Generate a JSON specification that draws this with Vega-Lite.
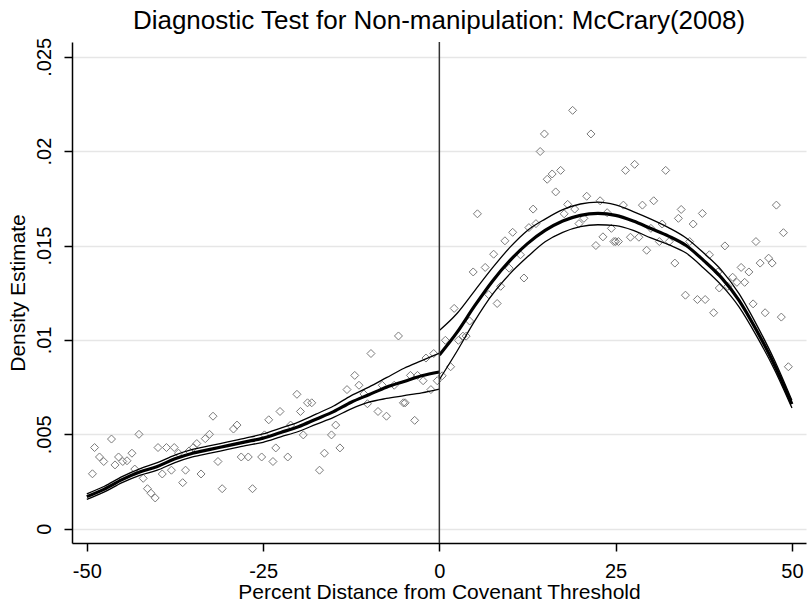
{
  "$schema": "https://vega.github.io/schema/vega-lite/v6.json",
  "autosize": {"type": "none"},
  "padding": {"left": 72, "top": 42, "right": 2, "bottom": 64},
  "width": 734,
  "height": 501,
  "background": "white",
  "title": {
    "text": "Diagnostic Test for Non-manipulation: McCrary(2008)",
    "font": "Liberation Sans",
    "fontSize": 26,
    "fontWeight": "normal",
    "color": "#000000",
    "anchor": "middle",
    "frame": "group",
    "baseline": "alphabetic",
    "offset": -18
  },
  "config": {
    "view": {"stroke": null},
    "font": "Liberation Sans",
    "axis": {
      "labelFont": "Liberation Sans",
      "titleFont": "Liberation Sans",
      "labelFontSize": 20,
      "titleFontSize": 21,
      "titleFontWeight": "normal",
      "labelColor": "#000000",
      "titleColor": "#000000",
      "domainColor": "#000000",
      "tickColor": "#000000",
      "domainWidth": 1.5,
      "tickWidth": 1.5,
      "tickSize": 8
    }
  },
  "datasets": {
    "bins": [
      {"x": -49.2, "y": 0.00291}, {"x": -48.9, "y": 0.0043}, {"x": -48.2, "y": 0.0038}, {"x": -47.6, "y": 0.00356},
      {"x": -46.5, "y": 0.00475}, {"x": -46.0, "y": 0.00338}, {"x": -45.5, "y": 0.0038}, {"x": -44.9, "y": 0.00356},
      {"x": -44.3, "y": 0.0036}, {"x": -43.6, "y": 0.004}, {"x": -43.2, "y": 0.00316}, {"x": -42.6, "y": 0.005},
      {"x": -42.0, "y": 0.00267}, {"x": -41.4, "y": 0.00212}, {"x": -40.9, "y": 0.00188}, {"x": -40.3, "y": 0.00163},
      {"x": -39.9, "y": 0.0043}, {"x": -39.3, "y": 0.0029}, {"x": -38.7, "y": 0.0043}, {"x": -38.0, "y": 0.0031},
      {"x": -37.6, "y": 0.0043}, {"x": -37.0, "y": 0.004}, {"x": -36.4, "y": 0.00244}, {"x": -36.0, "y": 0.0031},
      {"x": -35.5, "y": 0.00412}, {"x": -34.9, "y": 0.0043}, {"x": -34.4, "y": 0.00451}, {"x": -33.8, "y": 0.0029},
      {"x": -33.2, "y": 0.00477}, {"x": -32.6, "y": 0.005}, {"x": -32.1, "y": 0.00596}, {"x": -31.4, "y": 0.00356},
      {"x": -30.8, "y": 0.00212}, {"x": -29.2, "y": 0.00528}, {"x": -28.7, "y": 0.00549}, {"x": -28.1, "y": 0.0038},
      {"x": -27.1, "y": 0.0038}, {"x": -26.5, "y": 0.00212}, {"x": -25.2, "y": 0.0038}, {"x": -24.8, "y": 0.00497},
      {"x": -24.2, "y": 0.00577}, {"x": -23.6, "y": 0.00356}, {"x": -23.2, "y": 0.00428}, {"x": -22.6, "y": 0.00621},
      {"x": -21.5, "y": 0.0038}, {"x": -21.1, "y": 0.00549}, {"x": -20.2, "y": 0.00712}, {"x": -19.7, "y": 0.00621},
      {"x": -19.3, "y": 0.00497}, {"x": -18.7, "y": 0.00667}, {"x": -18.1, "y": 0.00667}, {"x": -17.0, "y": 0.0031},
      {"x": -16.3, "y": 0.004}, {"x": -15.3, "y": 0.00497}, {"x": -14.7, "y": 0.00549}, {"x": -14.1, "y": 0.00428},
      {"x": -13.1, "y": 0.00737}, {"x": -12.0, "y": 0.00812}, {"x": -11.4, "y": 0.0076}, {"x": -10.7, "y": 0.00714},
      {"x": -10.2, "y": 0.00662}, {"x": -9.7, "y": 0.00928}, {"x": -8.7, "y": 0.00621}, {"x": -8.1, "y": 0.0076},
      {"x": -7.5, "y": 0.00596}, {"x": -6.4, "y": 0.0076}, {"x": -5.8, "y": 0.01021}, {"x": -5.1, "y": 0.00667},
      {"x": -4.85, "y": 0.00667}, {"x": -4.1, "y": 0.00812}, {"x": -3.5, "y": 0.00574}, {"x": -3.1, "y": 0.00812},
      {"x": -2.3, "y": 0.00784}, {"x": -1.9, "y": 0.00904}, {"x": -1.2, "y": 0.00737}, {"x": -0.8, "y": 0.00928},
      {"x": -0.3, "y": 0.00784},
      {"x": 0.4, "y": 0.0081}, {"x": 0.85, "y": 0.00998}, {"x": 1.6, "y": 0.00858}, {"x": 2.1, "y": 0.01167},
      {"x": 2.7, "y": 0.00998}, {"x": 3.35, "y": 0.0102}, {"x": 3.8, "y": 0.0102}, {"x": 4.3, "y": 0.011},
      {"x": 4.8, "y": 0.0136}, {"x": 5.4, "y": 0.01668}, {"x": 6.5, "y": 0.01384}, {"x": 7.0, "y": 0.0124},
      {"x": 7.7, "y": 0.01454}, {"x": 8.2, "y": 0.01193}, {"x": 8.7, "y": 0.01284}, {"x": 9.3, "y": 0.01525},
      {"x": 9.9, "y": 0.0138}, {"x": 10.4, "y": 0.0157}, {"x": 11.5, "y": 0.01451}, {"x": 12.0, "y": 0.01328},
      {"x": 12.7, "y": 0.01595}, {"x": 13.3, "y": 0.01693}, {"x": 13.7, "y": 0.01616}, {"x": 14.3, "y": 0.01998},
      {"x": 14.9, "y": 0.02091}, {"x": 15.3, "y": 0.01851}, {"x": 16.0, "y": 0.01879}, {"x": 16.5, "y": 0.01784},
      {"x": 17.2, "y": 0.01898}, {"x": 17.7, "y": 0.01668}, {"x": 18.2, "y": 0.01718}, {"x": 18.9, "y": 0.02216},
      {"x": 19.2, "y": 0.01693}, {"x": 19.8, "y": 0.01616}, {"x": 20.5, "y": 0.01644}, {"x": 20.9, "y": 0.01761},
      {"x": 21.5, "y": 0.02091}, {"x": 22.2, "y": 0.015}, {"x": 22.8, "y": 0.01737}, {"x": 23.2, "y": 0.01546},
      {"x": 23.8, "y": 0.01674}, {"x": 24.4, "y": 0.01591}, {"x": 24.75, "y": 0.01521}, {"x": 25.0, "y": 0.01521},
      {"x": 25.4, "y": 0.01521}, {"x": 26.1, "y": 0.01714}, {"x": 26.4, "y": 0.01898}, {"x": 27.1, "y": 0.01544},
      {"x": 27.7, "y": 0.0193}, {"x": 28.3, "y": 0.01544}, {"x": 28.8, "y": 0.01714}, {"x": 29.4, "y": 0.01475},
      {"x": 30.0, "y": 0.01591}, {"x": 30.4, "y": 0.01737}, {"x": 31.2, "y": 0.01521}, {"x": 31.6, "y": 0.01614},
      {"x": 32.1, "y": 0.01898}, {"x": 32.6, "y": 0.01521}, {"x": 33.4, "y": 0.01407}, {"x": 33.9, "y": 0.01644},
      {"x": 34.3, "y": 0.01691}, {"x": 34.9, "y": 0.01237}, {"x": 35.5, "y": 0.01521}, {"x": 36.0, "y": 0.01614},
      {"x": 36.6, "y": 0.01214}, {"x": 37.3, "y": 0.0167}, {"x": 37.7, "y": 0.01214}, {"x": 38.3, "y": 0.01451},
      {"x": 38.9, "y": 0.01144}, {"x": 39.5, "y": 0.0136}, {"x": 39.7, "y": 0.01275}, {"x": 40.5, "y": 0.01498},
      {"x": 40.9, "y": 0.01284}, {"x": 41.6, "y": 0.01332}, {"x": 42.2, "y": 0.01305}, {"x": 42.8, "y": 0.01384},
      {"x": 43.3, "y": 0.01305}, {"x": 43.9, "y": 0.0136}, {"x": 44.5, "y": 0.01191}, {"x": 44.9, "y": 0.01521},
      {"x": 45.5, "y": 0.01407}, {"x": 46.2, "y": 0.01144}, {"x": 46.7, "y": 0.01433}, {"x": 47.2, "y": 0.01407},
      {"x": 47.8, "y": 0.01714}, {"x": 48.5, "y": 0.01121}, {"x": 48.8, "y": 0.01568}, {"x": 49.5, "y": 0.00858}
    ],
    "fit": [
      {"x": -50, "side": "L", "est": 0.0017, "lo": 0.00155, "hi": 0.00185},
      {"x": -47.5, "side": "L", "est": 0.0021, "lo": 0.00195, "hi": 0.00225},
      {"x": -45, "side": "L", "est": 0.0026, "lo": 0.00244, "hi": 0.00276},
      {"x": -42.5, "side": "L", "est": 0.003, "lo": 0.00283, "hi": 0.00317},
      {"x": -40, "side": "L", "est": 0.0033, "lo": 0.0031, "hi": 0.0035},
      {"x": -37.5, "side": "L", "est": 0.0037, "lo": 0.0035, "hi": 0.0039},
      {"x": -35, "side": "L", "est": 0.004, "lo": 0.0038, "hi": 0.0042},
      {"x": -32.5, "side": "L", "est": 0.0042, "lo": 0.004, "hi": 0.0044},
      {"x": -30, "side": "L", "est": 0.0044, "lo": 0.0042, "hi": 0.0046},
      {"x": -27.5, "side": "L", "est": 0.0046, "lo": 0.0044, "hi": 0.0048},
      {"x": -25, "side": "L", "est": 0.0048, "lo": 0.00458, "hi": 0.00502},
      {"x": -22.5, "side": "L", "est": 0.0051, "lo": 0.00487, "hi": 0.00533},
      {"x": -20, "side": "L", "est": 0.0054, "lo": 0.00515, "hi": 0.00565},
      {"x": -17.5, "side": "L", "est": 0.0058, "lo": 0.00553, "hi": 0.00607},
      {"x": -15, "side": "L", "est": 0.0062, "lo": 0.0059, "hi": 0.0065},
      {"x": -12.5, "side": "L", "est": 0.0067, "lo": 0.00635, "hi": 0.00705},
      {"x": -10, "side": "L", "est": 0.0071, "lo": 0.0067, "hi": 0.0075},
      {"x": -7.5, "side": "L", "est": 0.0075, "lo": 0.0069, "hi": 0.008},
      {"x": -5, "side": "L", "est": 0.0078, "lo": 0.00705, "hi": 0.0085},
      {"x": -2.5, "side": "L", "est": 0.0081, "lo": 0.0072, "hi": 0.0089},
      {"x": 0, "side": "L", "est": 0.0083, "lo": 0.0074, "hi": 0.0093},
      {"x": 0, "side": "R", "est": 0.0092, "lo": 0.0079, "hi": 0.0105},
      {"x": 2.5, "side": "R", "est": 0.0104, "lo": 0.0094, "hi": 0.0114},
      {"x": 5, "side": "R", "est": 0.0118, "lo": 0.011, "hi": 0.0126},
      {"x": 7.5, "side": "R", "est": 0.0131, "lo": 0.0124, "hi": 0.0138},
      {"x": 10, "side": "R", "est": 0.0142, "lo": 0.0135, "hi": 0.0149},
      {"x": 12.5, "side": "R", "est": 0.0151, "lo": 0.0144, "hi": 0.0158},
      {"x": 15, "side": "R", "est": 0.0158, "lo": 0.0152, "hi": 0.0164},
      {"x": 17.5, "side": "R", "est": 0.0163, "lo": 0.0157, "hi": 0.0169},
      {"x": 20, "side": "R", "est": 0.0166, "lo": 0.016, "hi": 0.0172},
      {"x": 22.5, "side": "R", "est": 0.0167, "lo": 0.0161, "hi": 0.0173},
      {"x": 25, "side": "R", "est": 0.0166, "lo": 0.01605, "hi": 0.01715},
      {"x": 27.5, "side": "R", "est": 0.0163, "lo": 0.0158, "hi": 0.0168},
      {"x": 30, "side": "R", "est": 0.0159, "lo": 0.0154, "hi": 0.0164},
      {"x": 32.5, "side": "R", "est": 0.0155, "lo": 0.01505, "hi": 0.01595},
      {"x": 35, "side": "R", "est": 0.015, "lo": 0.0146, "hi": 0.0154},
      {"x": 37.5, "side": "R", "est": 0.0142, "lo": 0.0138, "hi": 0.0146},
      {"x": 40, "side": "R", "est": 0.0133, "lo": 0.0129, "hi": 0.0137},
      {"x": 42.5, "side": "R", "est": 0.0121, "lo": 0.01175, "hi": 0.01245},
      {"x": 45, "side": "R", "est": 0.0105, "lo": 0.0102, "hi": 0.0108},
      {"x": 47.5, "side": "R", "est": 0.0087, "lo": 0.00845, "hi": 0.00895},
      {"x": 50, "side": "R", "est": 0.0066, "lo": 0.0064, "hi": 0.0068}
    ]
  },
  "encoding": {
    "x": {
      "type": "quantitative",
      "scale": {"domain": [-52.1, 52.0], "nice": false, "zero": false},
      "axis": {
        "title": "Percent Distance from Covenant Threshold",
        "values": [-50, -25, 0, 25, 50],
        "labelExpr": "datum.value < 0 ? '-' + abs(datum.value) : '' + datum.value",
        "grid": false,
        "labelPadding": 10,
        "titlePadding": 0
      }
    }
  },
  "layer": [
    {
      "data": {"name": "bins"},
      "mark": {"type": "point", "shape": "diamond", "filled": false, "stroke": "#7a7a7a", "strokeWidth": 1, "size": 64, "opacity": 1},
      "encoding": {
        "x": {"field": "x", "type": "quantitative"},
        "y": {
          "field": "y",
          "type": "quantitative",
          "scale": {"domain": [-0.000756, 0.02578], "nice": false, "zero": false},
          "axis": {
            "title": "Density Estimate",
            "values": [0, 0.005, 0.01, 0.015, 0.02, 0.025],
            "labelExpr": "datum.value == 0 ? '0' : replace(format(datum.value, '~g'), '0.', '.')",
            "labelAngle": -90,
            "labelAlign": "center",
            "labelBaseline": "bottom",
            "labelPadding": 10,
            "grid": true,
            "gridColor": "#e6e6e6",
            "gridWidth": 1.5,
            "titlePadding": 6
          }
        }
      }
    },
    {
      "data": {"name": "fit"},
      "mark": {"type": "line", "color": "#000000", "strokeWidth": 1.3, "interpolate": "monotone"},
      "encoding": {
        "x": {"field": "x", "type": "quantitative"},
        "y": {"field": "lo", "type": "quantitative"},
        "detail": {"field": "side"}
      }
    },
    {
      "data": {"name": "fit"},
      "mark": {"type": "line", "color": "#000000", "strokeWidth": 1.3, "interpolate": "monotone"},
      "encoding": {
        "x": {"field": "x", "type": "quantitative"},
        "y": {"field": "hi", "type": "quantitative"},
        "detail": {"field": "side"}
      }
    },
    {
      "data": {"name": "fit"},
      "mark": {"type": "line", "color": "#000000", "strokeWidth": 3.2, "interpolate": "monotone"},
      "encoding": {
        "x": {"field": "x", "type": "quantitative"},
        "y": {"field": "est", "type": "quantitative"},
        "detail": {"field": "side"}
      }
    },
    {
      "data": {"values": [{"x0": 0}]},
      "mark": {"type": "rule", "color": "#333333", "strokeWidth": 1.5},
      "encoding": {
        "x": {"field": "x0", "type": "quantitative"}
      }
    }
  ]
}
